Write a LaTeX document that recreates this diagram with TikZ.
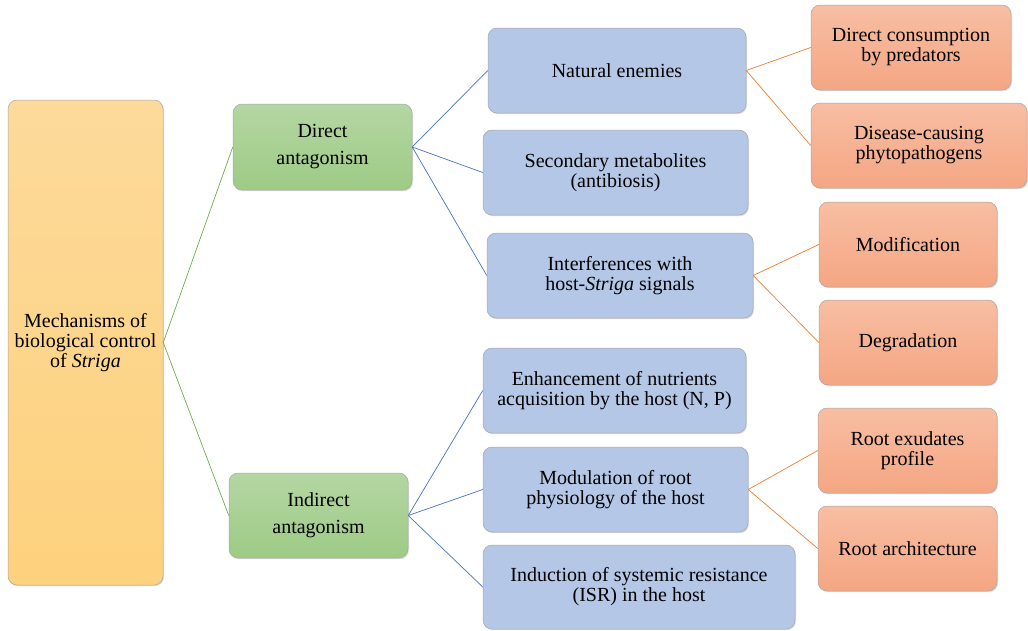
\documentclass[tikz,border=0pt]{standalone}
\usepackage{fontspec}
\setmainfont{Liberation Serif}
\usetikzlibrary{shadows}

\definecolor{rootTop}{HTML}{FDDA9B}
\definecolor{rootBot}{HTML}{FDD17D}
\definecolor{grnTop}{HTML}{B4D6A3}
\definecolor{grnBot}{HTML}{9DCB85}
\definecolor{bluBox}{HTML}{B4C7E7}
\definecolor{orgTop}{HTML}{F8BEA3}
\definecolor{orgBot}{HTML}{F4A683}
\definecolor{grnLine}{HTML}{70AD47}
\definecolor{bluLine}{HTML}{4472C4}
\definecolor{orgLine}{HTML}{ED7D31}

\begin{document}
\begin{tikzpicture}[x=1pt, y=-1pt,
    box/.style={draw=gray!70, line width=0.5pt, rounded corners=9pt, inner sep=2pt,
        align=center, font=\fontsize{20}{20}\selectfont, minimum height=85pt,
        drop shadow={shadow xshift=1pt, shadow yshift=-1.2pt, opacity=0.25}},
    rootbox/.style={box, top color=rootTop, bottom color=rootBot},
    groupbox/.style={box, top color=grnTop, bottom color=grnBot,
        font=\fontsize{20}{27}\selectfont},
    mechbox/.style={box, fill=bluBox},
    effbox/.style={box, top color=orgTop, bottom color=orgBot},
    grnlink/.style={draw=grnLine, line width=0.7pt},
    blulink/.style={draw=bluLine, line width=0.7pt},
    orglink/.style={draw=orgLine, line width=0.7pt}]

    \useasboundingbox (0,0) rectangle (1028,630);

    % root
    \node [rootbox, minimum width=155pt, minimum height=485pt] (root) at (85.5,342.5)
        {Mechanisms of\\biological control\\of \textit{Striga}};

    % two kinds of antagonism
    \node [groupbox, minimum width=179pt, minimum height=86pt] (direct) at (322.5,147)
        {Direct\\antagonism};
    \node [groupbox, minimum width=179pt] (indirect) at (318.5,515.5)
        {Indirect\\antagonism};

    % mechanisms
    \node [mechbox, minimum width=258pt] (enemies) at (617,70.5) {Natural enemies};
    \node [mechbox, minimum width=265pt] (metab) at (615.5,172.5)
        {Secondary metabolites\\(antibiosis)};
    \node [mechbox, minimum width=266pt] (interf) at (620,275.5)
        {Interferences with\\host-\textit{Striga} signals};
    \node [mechbox, minimum width=263pt] (enhance) at (614.5,390.5)
        {Enhancement of nutrients\\acquisition by the host (N, P)};
    \node [mechbox, minimum width=265pt] (modul) at (615.5,489.5)
        {Modulation of root\\physiology of the host};
    \node [mechbox, minimum width=312pt, minimum height=84pt] (induct) at (639,587)
        {Induction of systemic resistance\\(ISR) in the host};

    % effects
    \node [effbox, minimum width=200pt] (consum) at (911,47.5)
        {Direct consumption\\by predators};
    \node [effbox, minimum width=216pt] (disease) at (919,145.5)
        {Disease-causing\\phytopathogens};
    \node [effbox, minimum width=178pt] (modif) at (908,244.5) {Modification};
    \node [effbox, minimum width=178pt] (degrad) at (908,342.5) {Degradation};
    \node [effbox, minimum width=179pt] (exud) at (907.5,450.5)
        {Root exudates\\profile};
    \node [effbox, minimum width=179pt] (archi) at (907.5,548.5) {Root architecture};

    \draw [grnlink] (root.east) -- (direct.west);
    \draw [grnlink] (root.east) -- (indirect.west);

    \draw [blulink] (direct.east) -- (enemies.west);
    \draw [blulink] (direct.east) -- (metab.west);
    \draw [blulink] (direct.east) -- (interf.west);
    \draw [blulink] (indirect.east) -- (enhance.west);
    \draw [blulink] (indirect.east) -- (modul.west);
    \draw [blulink] (indirect.east) -- (induct.west);

    \draw [orglink] (enemies.east) -- (consum.west);
    \draw [orglink] (enemies.east) -- (disease.west);
    \draw [orglink] (interf.east) -- (modif.west);
    \draw [orglink] (interf.east) -- (degrad.west);
    \draw [orglink] (modul.east) -- (exud.west);
    \draw [orglink] (modul.east) -- (archi.west);
\end{tikzpicture}
\end{document}
